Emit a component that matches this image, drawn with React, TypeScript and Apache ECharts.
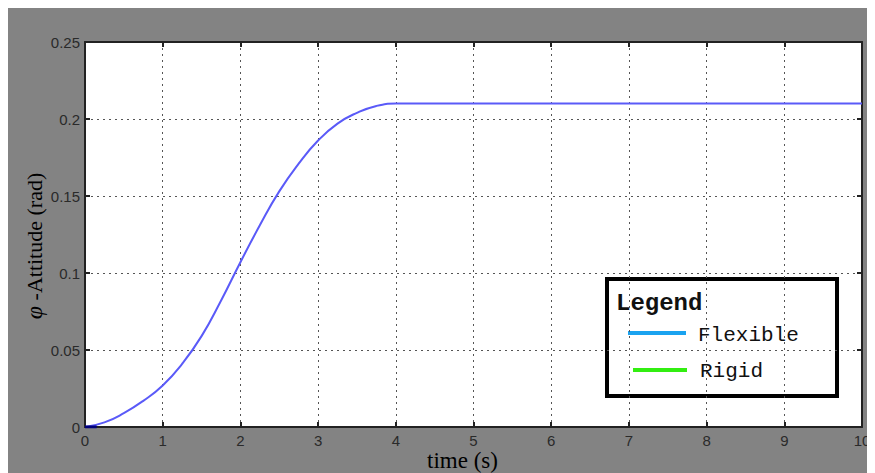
import React, { useEffect, useRef } from "react";
import * as echarts from "echarts";

const timeValues = [0, 0.25, 0.5, 0.75, 1, 1.25, 1.5, 1.75, 2, 2.25, 2.5, 2.75, 3, 3.25, 3.5, 3.75, 4, 5, 6, 7, 8, 9, 10];
const attitudeValues = [0, 0.003, 0.009, 0.017, 0.027, 0.041, 0.059, 0.082, 0.107, 0.131, 0.153, 0.171, 0.186, 0.197, 0.204, 0.2085, 0.21, 0.21, 0.21, 0.21, 0.21, 0.21, 0.21];
const startSegX = [0, 0.15];
const startSegY = [0, 0];
const legendTitle = "Legend";
const legendNames = ["Flexible", "Rigid"];
const legendColors = ["#1aa3f0", "#33ee11"];
const xAxisName = "time (s)";
const yAxisNameSymbol = "φ";
const yAxisNameText = " -Attitude (rad)";

export default function App() {
  const ref = useRef<HTMLDivElement>(null);
  useEffect(() => {
    if (!ref.current) return;
    const chart = echarts.init(ref.current, undefined, { renderer: "svg" });
    const tickLabel = { color: "#2a2a2a", fontFamily: "Liberation Sans", fontSize: 15, lineHeight: 14 };
    const split = { show: true, lineStyle: { color: "#555", type: [2, 4] as any, width: 1 } };
    const axLine = { show: true, onZero: false, lineStyle: { color: "#222", width: 2 } };
    const tick = { show: true, inside: true, length: 5, lineStyle: { color: "#222", width: 2 } };
    const gx = 599, gy = 271;
    chart.setOption({
      animation: false,
      backgroundColor: "#838383",
      grid: { left: 77, top: 34, right: 13, bottom: 46, show: true, backgroundColor: "#fff", borderWidth: 0 },
      xAxis: [
        {
          type: "value", min: 0, max: 10, interval: 1, position: "bottom",
          axisLine: axLine, axisTick: tick, splitLine: split,
          axisLabel: { ...tickLabel, margin: 6 },
        },
        {
          type: "value", min: 0, max: 10, interval: 1, position: "top",
          axisLine: axLine, axisTick: tick, splitLine: { show: false }, axisLabel: { show: false },
        },
      ],
      yAxis: [
        {
          type: "value", min: 0, max: 0.25, interval: 0.05, position: "left",
          axisLine: axLine, axisTick: tick, splitLine: split,
          axisLabel: { ...tickLabel, margin: 5 },
        },
        {
          type: "value", min: 0, max: 0.25, interval: 0.05, position: "right",
          axisLine: axLine, axisTick: tick, splitLine: { show: false }, axisLabel: { show: false },
        },
      ],
      series: [
        {
          type: "line", name: "attitude", xAxisIndex: 0, yAxisIndex: 0,
          data: timeValues.map((t, i) => [t, attitudeValues[i]]),
          showSymbol: false, smooth: 0.5,
          lineStyle: { color: "#5a5af8", width: 2 },
        },
        {
          type: "line", name: "start", xAxisIndex: 0, yAxisIndex: 0,
          data: startSegX.map((t, i) => [t, startSegY[i]]),
          showSymbol: false,
          lineStyle: { color: "#00007a", width: 3 },
        },
      ],
      graphic: [
        {
          type: "text", x: 26, y: 238, rotation: Math.PI / 2,
          style: {
            text: `{i|${yAxisNameSymbol}}${yAxisNameText}`,
            align: "center", verticalAlign: "middle",
            fontFamily: "Liberation Serif", fontSize: 22, fill: "#000",
            rich: { i: { fontFamily: "Liberation Serif", fontStyle: "italic", fontSize: 24, fill: "#000" } },
          } as any,
        },
        {
          type: "text", x: 454.5, y: 452,
          style: {
            text: xAxisName, align: "center", verticalAlign: "middle",
            fontFamily: "Liberation Serif", fontSize: 23, lineHeight: 20, fill: "#000",
          },
        },
        {
          type: "group", x: gx, y: gy,
          children: [
            { type: "rect", shape: { x: 0, y: 0, width: 230, height: 117 }, style: { fill: "#fff", stroke: "#000", lineWidth: 4 } },
            { type: "text", x: 9, y: 24, style: { text: legendTitle, fontFamily: "Liberation Mono", fontWeight: "bold", fontSize: 24, fill: "#111", verticalAlign: "middle" } },
            { type: "line", shape: { x1: 21, y1: 54, x2: 79, y2: 54 }, style: { stroke: legendColors[0], lineWidth: 4 } },
            { type: "text", x: 91, y: 56, style: { text: legendNames[0], fontFamily: "Liberation Mono", fontSize: 21, fill: "#111", verticalAlign: "middle" } },
            { type: "line", shape: { x1: 26, y1: 91, x2: 80, y2: 91 }, style: { stroke: legendColors[1], lineWidth: 4 } },
            { type: "text", x: 93, y: 92, style: { text: legendNames[1], fontFamily: "Liberation Mono", fontSize: 21, fill: "#111", verticalAlign: "middle" } },
          ],
        },
      ],
    });
    return () => chart.dispose();
  }, []);
  return <div ref={ref} style={{ width: 867, height: 465 }} />;
}
